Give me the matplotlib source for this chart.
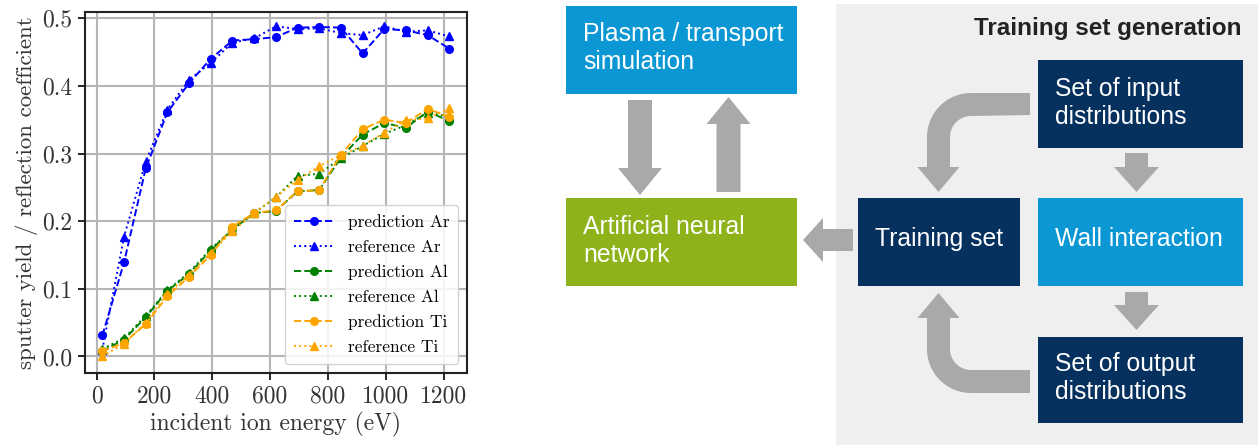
import numpy as np
import matplotlib
matplotlib.use("Agg")
import matplotlib.pyplot as plt
from matplotlib.patches import Rectangle, Polygon
import matplotlib.font_manager as fm

# ---------------- data ----------------
energy = [20, 95, 170, 245, 320, 395, 470, 545, 620, 695, 770, 845, 920, 995, 1070, 1145, 1220]
pred_ar = [0.031, 0.139, 0.278, 0.361, 0.404, 0.440, 0.467, 0.469, 0.472, 0.486, 0.487, 0.486, 0.448, 0.484, 0.482, 0.475, 0.455]
ref_ar = [0.010, 0.177, 0.288, 0.365, 0.409, 0.434, 0.464, 0.470, 0.488, 0.484, 0.485, 0.478, 0.475, 0.488, 0.480, 0.482, 0.473]
pred_al = [0.008, 0.025, 0.058, 0.097, 0.122, 0.157, 0.188, 0.212, 0.215, 0.244, 0.246, 0.294, 0.328, 0.345, 0.338, 0.362, 0.348]
ref_al = [0.011, 0.027, 0.060, 0.098, 0.124, 0.159, 0.187, 0.212, 0.235, 0.267, 0.270, 0.293, 0.311, 0.329, 0.342, 0.360, 0.355]
pred_ti = [0.008, 0.020, 0.048, 0.089, 0.118, 0.150, 0.192, 0.212, 0.216, 0.244, 0.246, 0.298, 0.336, 0.350, 0.345, 0.366, 0.354]
ref_ti = [0.000, 0.019, 0.050, 0.093, 0.121, 0.153, 0.185, 0.212, 0.236, 0.261, 0.281, 0.298, 0.311, 0.331, 0.349, 0.352, 0.367]

series_labels = ["prediction Ar", "reference Ar", "prediction Al", "reference Al", "prediction Ti", "reference Ti"]
xticks = [0, 200, 400, 600, 800, 1000, 1200]
yticks = [0.0, 0.1, 0.2, 0.3, 0.4, 0.5]
xlabel = "incident ion energy (eV)"
ylabel = "sputter yield / reflection coefficient"

box_texts = {
    "plasma": "Plasma / transport\nsimulation",
    "ann": "Artificial neural\nnetwork",
    "input": "Set of input\ndistributions",
    "training": "Training set",
    "wall": "Wall interaction",
    "output": "Set of output\ndistributions",
}
panel_title = "Training set generation"

# ---------------- figure ----------------
W, H = 1258, 445
fig = plt.figure(figsize=(W / 100, H / 100), dpi=100)
fig.patch.set_facecolor("white")

serif = "cmr10"
plt.rcParams["axes.formatter.use_mathtext"] = True

ax = fig.add_axes([85 / W, 1 - 372.7 / H, (466.7 - 85) / W, (372.7 - 11.7) / H])
styles = [
    (pred_ar, "blue", "--", "o"),
    (ref_ar, "blue", ":", "^"),
    (pred_al, "green", "--", "o"),
    (ref_al, "green", ":", "^"),
    (pred_ti, "orange", "--", "o"),
    (ref_ti, "orange", ":", "^"),
]
for (vals, c, ls, m), lab in zip(styles, series_labels):
    ax.plot(energy, vals, color=c, linestyle=ls, marker=m, markersize=5.5, linewidth=1.4, label=lab)

ax.set_xticks(xticks)
ax.set_yticks(yticks)
ax.set_xlim(-40, 1280)
ax.set_ylim(-0.024, 0.5096)
ax.grid(True, color="#b5b5b5", linewidth=1.5)
ax.set_axisbelow(True)
for s in ax.spines.values():
    s.set_linewidth(1.5)
    s.set_color("#222222")
ax.tick_params(labelsize=17, length=5, width=1.2, pad=4)
ax.set_xticklabels([str(v) for v in xticks])
ax.set_yticklabels(["%.1f" % v for v in yticks])
for t in ax.get_xticklabels() + ax.get_yticklabels():
    t.set_fontfamily(serif)
    t.set_color("#333333")
ax.set_xlabel(xlabel, fontsize=17, fontfamily=serif, color="#333333", labelpad=3)
ax.set_ylabel(ylabel, fontsize=16.5, fontfamily=serif, color="#333333", labelpad=3)
leg = ax.legend(loc="lower right", prop=fm.FontProperties(family=serif, size=12.5),
                framealpha=0.85, edgecolor="#cccccc", handlelength=2.3,
                labelspacing=0.55, borderpad=0.5)

# ---------------- diagram ----------------
d = fig.add_axes([0, 0, 1, 1], zorder=-1)
d.set_xlim(0, W)
d.set_ylim(H, 0)
d.axis("off")

grey = "#a9a9a9"
light_blue = "#0a97d4"
navy = "#06315f"
green = "#8db21a"
panel = "#efefef"

d.add_patch(Rectangle((836, 4), W - 836, H - 4, facecolor=panel, edgecolor="none"))
d.text(1242, 28, panel_title, ha="right", va="center", fontsize=17.5, fontweight="bold",
       family="Liberation Sans", color="#222222")

def box(x0, y0, x1, y1, color):
    d.add_patch(Rectangle((x0, y0), x1 - x0, y1 - y0, facecolor=color, edgecolor="none"))

box(566, 6, 797, 94, light_blue)
box(566, 198, 797, 286, green)
box(1038, 60, 1243, 148, navy)
box(858, 198, 1020, 286, navy)
box(1038, 198, 1243, 286, light_blue)
box(1038, 337, 1243, 423, navy)

tkw = dict(fontsize=17.8, family="Liberation Sans", color="white", va="center", linespacing=1.2)
d.text(583, 48, box_texts["plasma"], ha="left", **tkw)
d.text(583, 241, box_texts["ann"], ha="left", **tkw)
d.text(1055, 103, box_texts["input"], ha="left", **tkw)
d.text(939, 239, box_texts["training"], ha="center", **tkw)
d.text(1055, 239, box_texts["wall"], ha="left", **tkw)
d.text(1055, 378, box_texts["output"], ha="left", **tkw)

def varrow(xc, y_start, y_tip, shaft_w, head_w, head_len):
    sgn = 1 if y_tip > y_start else -1
    yb = y_tip - sgn * head_len
    pts = [(xc - shaft_w / 2, y_start), (xc + shaft_w / 2, y_start),
           (xc + shaft_w / 2, yb), (xc + head_w / 2, yb), (xc, y_tip),
           (xc - head_w / 2, yb), (xc - shaft_w / 2, yb)]
    d.add_patch(Polygon(pts, closed=True, facecolor=grey, edgecolor="none"))

def harrow(yc, x_start, x_tip, shaft_w, head_w, head_len):
    sgn = 1 if x_tip > x_start else -1
    xb = x_tip - sgn * head_len
    pts = [(x_start, yc - shaft_w / 2), (x_start, yc + shaft_w / 2),
           (xb, yc + shaft_w / 2), (xb, yc + head_w / 2), (x_tip, yc),
           (xb, yc - head_w / 2), (xb, yc - shaft_w / 2)]
    d.add_patch(Polygon(pts, closed=True, facecolor=grey, edgecolor="none"))

# plasma <-> ANN
varrow(640, 100, 195, 24, 44, 27)
varrow(728.5, 192, 97, 24, 44, 27)
# input -> wall, wall -> output
varrow(1136.5, 153, 192, 23, 45, 25)
varrow(1136.5, 292, 330, 23, 45, 25)
# training set -> ANN
harrow(240, 853, 803, 22, 44, 20)

def bent_arrow(x_right, y_edge_outer, y_edge_inner, x_outer, x_inner, y_tip, down=True):
    R = 44.0
    w = x_inner - x_outer
    r = R - w
    s = 1 if down else -1
    cx, cy = x_outer + R, y_edge_outer + s * R
    head_len, head_w = 25, 42
    xc = (x_outer + x_inner) / 2
    yb = y_tip - s * head_len
    pts = [(x_right, y_edge_outer), (cx, y_edge_outer)]
    th = np.linspace(np.pi / 2, np.pi, 20)
    pts += [(cx + R * np.cos(t), cy - s * R * np.sin(t)) for t in th]
    pts += [(x_outer, yb), (xc - head_w / 2, yb), (xc, y_tip), (xc + head_w / 2, yb), (x_inner, yb)]
    th2 = np.linspace(np.pi, np.pi / 2, 20)
    pts += [(cx + r * np.cos(t), cy - s * r * np.sin(t)) for t in th2]
    pts += [(x_right, y_edge_inner)]
    d.add_patch(Polygon(pts, closed=True, facecolor=grey, edgecolor="none"))

bent_arrow(1030, 93, 115, 927, 950, 192, down=True)
bent_arrow(1030, 393, 370, 927, 950, 293, down=False)

fig.savefig("out.png", dpi=100)
